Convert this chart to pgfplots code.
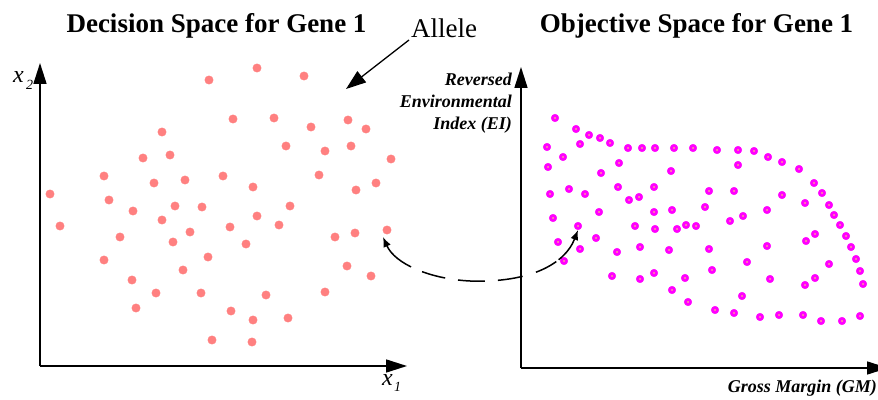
\documentclass[border=0pt]{standalone}
\usepackage{fontspec}
\setmainfont{Liberation Serif}
\usepackage{pgfplots}
\usepackage{pgfplotstable}
\pgfplotsset{compat=1.18}
\usetikzlibrary{arrows.meta}

\definecolor{salmonpt}{RGB}{255,128,128}
\definecolor{magentapt}{RGB}{255,0,255}
\definecolor{dotcore}{RGB}{255,200,120}

% decision space (x1, x2), pixels from the origin
\pgfplotstableread{
x y
10 172
64 190
103 208
122 234
130 211
114 183
145 186
169 286
193 247
183 190
213 179
217 298
234 248
246 220
264 290
271 239
279 191
285 215
308 246
311 220
326 237
316 176
336 183
351 207
69 166
93 155
135 160
162 159
250 160
20 140
122 146
217 150
190 139
239 141
80 129
150 134
133 124
206 122
295 129
315 133
347 136
64 106
168 109
143 96
307 100
331 90
92 86
116 73
161 73
226 71
285 74
96 58
191 55
213 46
248 48
172 26
212 24
}\decision

% objective space (GM, reversed EI)
\pgfplotstableread{
x y
34 250
55 239
68 233
79 230
89 225
26 221
59 224
107 220
121 220
134 220
153 220
172 220
196 218
217 218
233 217
247 211
261 206
278 199
293 185
301 175
308 163
313 153
319 143
325 132
330 121
335 109
339 97
342 84
42 211
27 201
98 205
80 195
150 197
217 203
29 174
48 179
64 174
97 181
133 181
188 177
213 177
261 173
108 168
118 171
284 165
133 156
151 158
78 156
184 161
32 150
57 142
114 142
134 139
156 139
165 143
175 142
209 147
222 152
246 158
37 126
59 119
43 107
75 130
96 116
119 121
148 118
188 119
246 122
285 127
294 134
226 106
308 104
91 92
119 89
133 95
164 90
191 98
249 89
284 83
294 90
151 78
221 72
167 66
194 58
213 55
239 51
258 53
282 53
300 47
321 47
339 52
}\objective

\begin{document}
\begin{tikzpicture}[x=1pt,y=1pt]
\useasboundingbox (0,0) rectangle (878,399);

\pgfplotsset{panel/.style={
  scale only axis, width=367pt,
  xmin=0, xmax=367, ymin=0,
  axis lines*=left, ticks=none, clip=false,
  axis line style={line width=1.6pt, -{Triangle[length=21pt,width=13pt]}},
  anchor=south west
}}

\begin{axis}[panel, at={(40,33)}, height=303pt, ymax=303]
\addplot[only marks, mark=*, mark size=4.2pt, draw=salmonpt, fill=salmonpt]
  table {\decision};
\end{axis}

\begin{axis}[panel, at={(521,31)}, height=301pt, ymax=301]
\addplot[only marks, mark=*, mark size=3.8pt, draw=magentapt, fill=magentapt]
  table {\objective};
\addplot[only marks, mark=*, mark size=0.5pt, draw=dotcore, fill=dotcore]
  table {\objective};
\end{axis}

% titles
\node[anchor=base] at (216.5,366) {\fontsize{27}{30}\selectfont\bfseries Decision Space for Gene 1};
\node[anchor=base] at (696.5,366) {\fontsize{27}{30}\selectfont\bfseries Objective Space for Gene 1};

% allele callout
\node[anchor=base west, inner sep=0pt] at (411,361) {\fontsize{27}{30}\selectfont Allele};
\draw[line width=1.3pt, -{Triangle[length=20pt,width=14pt]}] (409,359) -- (346,310);

% axis labels, left
\node[anchor=base west, inner sep=0pt] at (13,316) {\fontsize{24}{24}\selectfont\itshape x};
\node[anchor=base west, inner sep=0pt] at (26,309) {\fontsize{14}{14}\selectfont\itshape 2};
\node[anchor=base west, inner sep=0pt] at (382,14) {\fontsize{24}{24}\selectfont\itshape x};
\node[anchor=base west, inner sep=0pt] at (394,8) {\fontsize{14}{14}\selectfont\itshape 1};

% axis labels, right
\node[anchor=base east, inner sep=0pt] at (512,313) {\fontsize{18}{18}\selectfont\bfseries\itshape Reversed};
\node[anchor=base east, inner sep=0pt] at (512,291) {\fontsize{18}{18}\selectfont\bfseries\itshape Environmental};
\node[anchor=base east, inner sep=0pt] at (512,269) {\fontsize{18}{18}\selectfont\bfseries\itshape Index (EI)};
\node[anchor=base east, inner sep=0pt] at (877,7) {\fontsize{18}{18}\selectfont\bfseries\itshape Gross Margin (GM)};

% mapping arrow between the spaces
\draw[line width=1.5pt, {Latex[length=10pt,width=8pt]}-{Latex[length=10pt,width=8pt]},
  dash pattern=on 33pt off 12pt on 24pt off 13pt on 27pt off 13pt on 25pt off 14pt on 23pt off 3pt on 80pt off 10pt]
  (383,162) .. controls (395,135) and (430,120) .. (470,118)
            .. controls (530,116) and (565,135) .. (578,169);
\end{tikzpicture}
\end{document}
